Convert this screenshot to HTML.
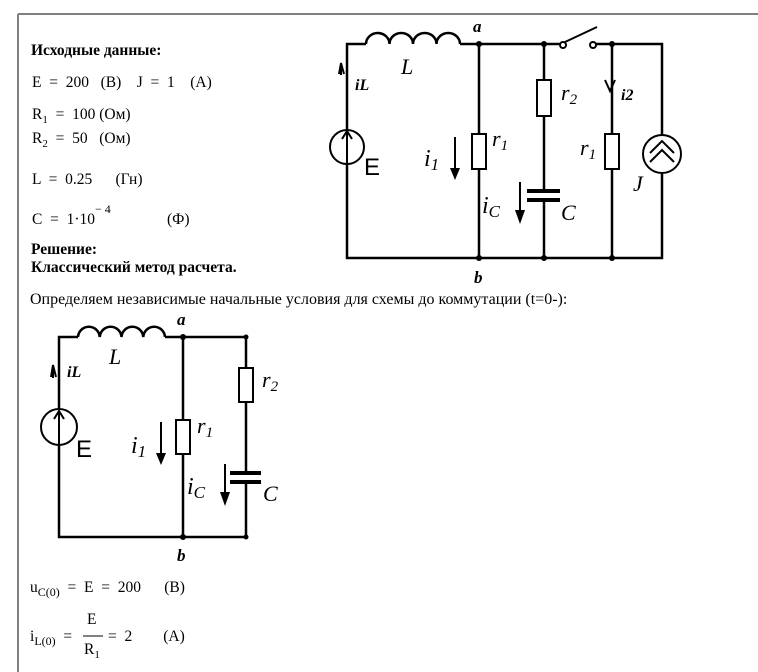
<!DOCTYPE html>
<html><head><meta charset="utf-8"><style>
html,body{margin:0;padding:0;background:#fff;}
svg{display:block}
text{font-family:"Liberation Serif",serif;fill:#000;white-space:pre}
.s{font-family:"Liberation Sans",sans-serif}
</style></head><body>
<svg width="758" height="672" viewBox="0 0 758 672" xmlns="http://www.w3.org/2000/svg" xml:space="preserve">
<line x1="18" y1="14" x2="758" y2="14" stroke="#808080" stroke-width="2"/>
<line x1="18" y1="14" x2="18" y2="672" stroke="#808080" stroke-width="2"/>

<g font-size="15.5">
<text x="31" y="55" font-weight="bold">Исходные данные:</text>
<text x="32" y="87">E  =  200   (B)    J  =  1    (A)</text>
<text x="32" y="119">R<tspan font-size="11" dy="4">1</tspan><tspan dy="-4">  =  100 (Ом)</tspan></text>
<text x="32" y="143">R<tspan font-size="11" dy="4">2</tspan><tspan dy="-4">  =  50   (Ом)</tspan></text>
<text x="32" y="184">L  =  0.25      (Гн)</text>
<text x="32" y="224">C  =  1·10</text>
<text x="95" y="213" font-size="12">− 4</text>
<text x="167" y="224">(Ф)</text>
<text x="31" y="254" font-weight="bold">Решение:</text>
<text x="31" y="272" font-weight="bold">Классический метод расчета.</text>
<text x="30" y="304" font-size="16">Определяем независимые начальные условия для схемы до коммутации (t=0-):</text>
<text x="30" y="592">u<tspan font-size="12" dy="4">C(0)</tspan><tspan dy="-4">  =  E  =  200      (B)</tspan></text>
<text x="30" y="641">i<tspan font-size="12" dy="4">L(0)</tspan><tspan dy="-4">  =</tspan></text>
<text x="87" y="624">E</text>
<line x1="83" y1="636" x2="103" y2="636" stroke="#000" stroke-width="1"/>
<text x="84" y="654">R<tspan font-size="11" dy="4">1</tspan></text>
<text x="108" y="641">=  2        (A)</text>
</g>

<!-- Circuit 1 -->
<g stroke="#000" stroke-width="2.5" fill="none">
<polyline points="366,44 347,44 347,258 662,258 662,44 612,44"/>
<line x1="460" y1="44" x2="563" y2="44"/>
<line x1="593" y1="44" x2="612" y2="44"/>
<path d="M366,44 a11.75,11 0 0 1 23.5,0 a11.75,11 0 0 1 23.5,0 a11.75,11 0 0 1 23.5,0 a11.75,11 0 0 1 23.5,0"/>
<line x1="479" y1="44" x2="479" y2="258"/>
<line x1="544" y1="44" x2="544" y2="191"/>
<line x1="544" y1="200" x2="544" y2="258"/>
<line x1="612" y1="44" x2="612" y2="258"/>
</g>
<g stroke="#000" stroke-width="2" fill="#fff">
<rect x="472" y="134" width="14" height="35"/>
<rect x="537" y="80" width="14" height="36"/>
<rect x="605" y="134" width="14" height="35"/>
<circle cx="347" cy="147" r="17"/>
<circle cx="662" cy="154" r="19"/>
<circle cx="563" cy="45" r="3"/>
<circle cx="593" cy="45" r="3"/>
</g>
<g stroke="#000" stroke-width="2" fill="none">
<line x1="565" y1="42" x2="597" y2="27"/>
<line x1="347" y1="164" x2="347" y2="132"/>
<polyline points="342,139 347,131 352,139"/>
<polyline points="650,162 662,150 674,162"/>
<polyline points="650,153 662,141 674,153"/>
<polyline points="339,74 341,63 344,74"/>
<line x1="341" y1="63" x2="341" y2="75"/>
<polyline points="605,80 610,91 615,80"/>
<line x1="527" y1="191" x2="560" y2="191" stroke-width="4"/>
<line x1="527" y1="200" x2="560" y2="200" stroke-width="4"/>
<line x1="455" y1="137" x2="455" y2="170"/>
<line x1="520" y1="182" x2="520" y2="212"/>
</g>
<polygon points="450,168 460,168 455,180" fill="#000"/>
<polygon points="515,210 525,210 520,224" fill="#000"/>
<g fill="#000">
<circle cx="479" cy="44" r="3"/><circle cx="544" cy="44" r="3"/><circle cx="612" cy="44" r="3"/>
<circle cx="479" cy="258" r="3"/><circle cx="544" cy="258" r="3"/><circle cx="612" cy="258" r="3"/>
</g>
<g font-style="italic">
<text x="473" y="32" font-size="17" font-weight="bold">a</text>
<text x="474" y="283" font-size="17" font-weight="bold">b</text>
<text x="401" y="74" font-size="22">L</text>
<text x="355" y="90" font-size="16" font-weight="bold">iL</text>
<text x="621" y="100" font-size="16" font-weight="bold">i2</text>
<text x="492" y="146" font-size="22">r<tspan font-size="15" dy="4">1</tspan></text>
<text x="561" y="100" font-size="22">r<tspan font-size="15" dy="4">2</tspan></text>
<text x="580" y="155" font-size="22">r<tspan font-size="15" dy="4">1</tspan></text>
<text x="424" y="166" font-size="24">i<tspan font-size="17" dy="4">1</tspan></text>
<text x="482" y="213" font-size="24">i<tspan font-size="17" dy="4">C</tspan></text>
<text x="561" y="220" font-size="22">C</text>
<text x="633" y="191" font-size="22">J</text>
<text x="364" y="175" font-size="24" class="s" font-style="normal">E</text>
</g>

<!-- Circuit 2 -->
<g stroke="#000" stroke-width="2.5" fill="none">
<polyline points="78,337 59,337 59,537 246,537"/>
<line x1="165" y1="337" x2="246" y2="337"/>
<path d="M78,337 a10.9,11 0 0 1 21.75,0 a10.9,11 0 0 1 21.75,0 a10.9,11 0 0 1 21.75,0 a10.9,11 0 0 1 21.75,0"/>
<line x1="183" y1="337" x2="183" y2="537"/>
<line x1="246" y1="337" x2="246" y2="473"/>
<line x1="246" y1="482" x2="246" y2="537"/>
</g>
<g stroke="#000" stroke-width="2" fill="#fff">
<rect x="176" y="420" width="14" height="34"/>
<rect x="239" y="368" width="14" height="34"/>
<circle cx="59" cy="427" r="18"/>
</g>
<g stroke="#000" stroke-width="2" fill="none">
<line x1="59" y1="445" x2="59" y2="411"/>
<polyline points="54,419 59,411 64,419"/>
<polyline points="51,377 53,365 56,377"/>
<line x1="53" y1="365" x2="53" y2="378"/>
<line x1="230" y1="473" x2="261" y2="473" stroke-width="4"/>
<line x1="230" y1="482" x2="261" y2="482" stroke-width="4"/>
<line x1="161" y1="422" x2="161" y2="455"/>
<line x1="225" y1="464" x2="225" y2="494"/>
</g>
<polygon points="156,453 166,453 161,465" fill="#000"/>
<polygon points="220,492 230,492 225,506" fill="#000"/>
<g fill="#000">
<circle cx="183" cy="337" r="3"/><circle cx="246" cy="337" r="2.5"/>
<circle cx="183" cy="537" r="3"/><circle cx="246" cy="537" r="2.5"/>
</g>
<g font-style="italic">
<text x="177" y="325" font-size="17" font-weight="bold">a</text>
<text x="177" y="561" font-size="17" font-weight="bold">b</text>
<text x="109" y="364" font-size="22">L</text>
<text x="67" y="377" font-size="16" font-weight="bold">iL</text>
<text x="197" y="433" font-size="22">r<tspan font-size="15" dy="4">1</tspan></text>
<text x="262" y="387" font-size="22">r<tspan font-size="15" dy="4">2</tspan></text>
<text x="131" y="453" font-size="24">i<tspan font-size="17" dy="4">1</tspan></text>
<text x="187" y="494" font-size="24">i<tspan font-size="17" dy="4">C</tspan></text>
<text x="263" y="501" font-size="22">C</text>
<text x="76" y="457" font-size="24" class="s" font-style="normal">E</text>
</g>
</svg>
</body></html>
